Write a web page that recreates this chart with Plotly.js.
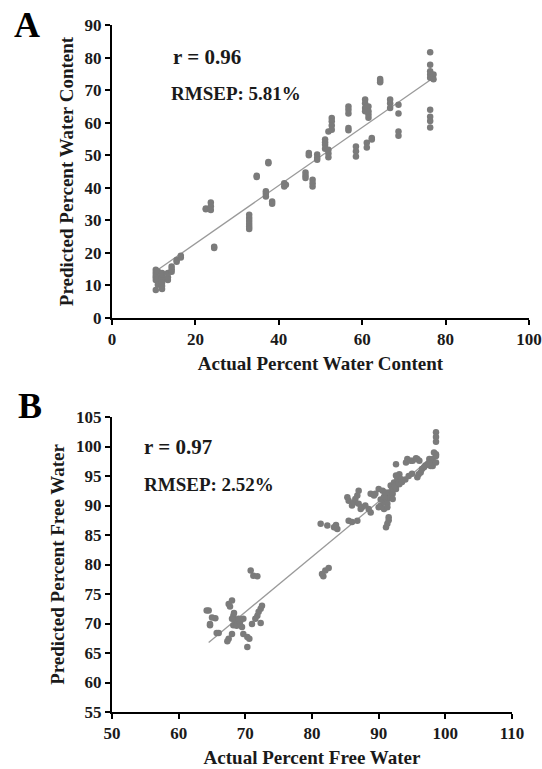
<!DOCTYPE html>
<html>
<head>
<meta charset="utf-8">
<script src="https://cdn.plot.ly/plotly-3.0.1.min.js"></script>
<style>html,body{margin:0;padding:0;background:#fff;}#chart{width:542px;height:769px;}</style>
</head>
<body>
<div id="chart"></div>
<script>
// Panel A: Actual vs predicted percent water content
const actualA = [
  10.5,10.5,10.5,10.5,10.5,10.5,
  11.0,11.0,11.0,
  12.0,12.0,12.0,12.0,12.0,12.0,12.0,
  13.4,13.4,13.4,
  14.3,14.3,14.3,
  15.5,15.5,
  16.5,16.5,
  22.5,22.5,
  23.7,23.7,23.7,
  24.5,24.5,
  32.9,32.9,32.9,32.9,32.9,32.9,
  34.7,34.7,
  36.9,36.9,36.9,
  37.5,37.5,
  38.4,38.4,
  41.3,41.3,41.7,
  46.4,46.4,46.4,
  47.2,47.2,
  48.1,48.1,48.1,
  49.2,49.2,49.2,
  51.1,51.1,51.1,51.1,
  51.9,51.9,51.9,51.9,
  52.7,52.7,52.7,52.7,
  56.7,56.7,56.7,56.7,56.7,
  58.5,58.5,58.5,
  60.7,60.7,60.7,60.7,
  61.1,61.1,
  61.5,61.5,61.5,61.5,
  62.3,62.3,
  64.3,64.3,64.3,
  66.7,66.7,66.7,
  68.7,68.7,68.7,68.7,
  76.3,76.3,76.3,76.3,76.3,76.3,76.3,76.3,76.3,
  77.1,77.1
];
const predictedA = [
  14.8,14.0,13.2,12.5,11.7,8.6,
  14.3,12.0,10.2,
  13.8,12.9,12.3,11.5,10.8,9.8,8.9,
  11.7,12.5,13.8,
  14.2,15.0,15.8,
  17.3,17.8,
  18.6,19.1,
  33.4,33.6,
  35.5,34.3,33.2,
  21.9,21.5,
  31.7,30.7,29.8,28.9,28.0,27.3,
  43.7,43.3,
  38.9,38.2,37.3,
  47.9,47.5,
  35.8,35.1,
  41.4,40.4,40.9,
  44.7,43.8,43.0,
  50.7,50.0,
  42.5,41.4,40.4,
  50.2,49.2,48.6,
  54.8,54.0,53.2,52.0,
  57.3,51.7,50.5,49.4,
  61.4,60.4,59.1,57.8,
  65.0,64.0,62.8,58.4,57.7,
  52.7,51.2,49.6,
  67.1,66.0,64.5,63.5,
  53.8,52.4,
  65.0,63.5,62.5,61.5,
  55.3,54.8,
  73.4,72.9,72.4,
  67.1,66.0,64.5,
  65.5,62.8,57.3,56.0,
  81.6,77.8,75.8,74.8,73.8,64.0,61.8,60.5,58.5,
  74.8,73.3
];
const fitA_x = [10.3, 77.1];
const fitA_y = [14.2, 73.8];

// Panel B: Actual vs predicted percent free water
const actualB = [
  64.5,64.2,65.0,65.5,64.7,64.7,66.0,65.7,67.5,68.0,67.7,68.2,68.5,68.2,68.7,68.0,69.2,69.7,69.5,
  68.0,67.5,67.3,69.7,70.3,70.6,70.3,69.0,68.3,
  70.8,71.2,71.8,71.0,71.8,72.3,72.5,72.0,72.3,71.5,
  81.5,82.0,82.5,81.7,81.3,82.3,83.3,83.8,83.6,83.5,
  85.3,85.5,86.0,85.5,86.0,86.8,86.3,86.5,86.8,87.0,87.0,87.3,87.5,88.0,88.5,88.8,88.8,89.3,89.5,
  90.0,90.0,90.3,90.6,90.8,90.8,91.1,91.1,91.3,91.3,91.3,91.3,91.5,91.5,91.5,91.8,91.8,92.1,92.1,
  92.3,92.6,92.6,92.6,92.8,93.1,93.1,93.3,92.6,
  94.1,94.3,94.8,95.1,95.6,95.8,95.8,96.0,96.1,96.3,96.8,97.3,97.6,97.8,97.8,98.1,98.1,98.3,
  98.6,98.6,98.6,98.6,98.6,98.6,
  90.3,90.8,91.0,92.0,92.4,93.0,93.5,94.0,94.5,95.0,96.5,97.0,97.5
];
const predictedB = [
  72.2,72.2,71.0,70.9,69.7,69.9,68.4,68.4,73.3,73.9,72.9,71.3,70.5,69.7,69.6,70.8,70.2,70.8,69.4,
  68.2,67.4,67.0,68.2,67.7,67.4,66.0,70.8,71.8,
  79.0,78.1,78.0,69.9,71.3,72.5,73.0,72.0,70.1,70.8,
  78.4,79.0,79.4,78.0,86.9,86.6,86.3,86.0,86.7,86.3,
  91.4,90.8,90.0,87.4,87.2,87.4,90.5,91.1,91.7,92.5,90.3,89.4,89.7,90.0,89.4,92.0,88.8,91.7,92.0,
  92.8,89.7,90.0,92.5,90.5,89.4,92.0,86.3,91.1,90.3,89.7,86.9,92.2,88.0,87.5,93.4,91.4,92.0,91.1,
  93.9,93.4,92.8,97.0,94.5,93.6,95.3,94.5,95.1,
  97.3,97.9,97.6,97.6,98.0,97.9,94.8,95.3,97.6,95.6,96.5,97.0,97.9,97.3,96.7,97.9,96.7,99.0,
  102.4,101.6,100.8,98.4,97.3,98.7,
  91.0,91.5,92.2,93.0,93.2,93.8,94.0,94.4,95.0,95.4,96.2,96.8,97.2
];
const fitB_x = [64.5, 98.6];
const fitB_y = [66.8, 98.7];

const W = 542, H = 769;
const px = v => v / W;
const py = v => 1 - v / H;

const serif = "Liberation Serif, Times New Roman, serif";
const markerStyle = {color: '#7b7b7b', size: 6.5};
const lineStyle = {color: '#9a9a9a', width: 1.3};

const traces = [
  {x: fitA_x, y: fitA_y, mode: 'lines', line: lineStyle, xaxis: 'x', yaxis: 'y', hoverinfo: 'skip'},
  {x: actualA, y: predictedA, mode: 'markers', marker: markerStyle, xaxis: 'x', yaxis: 'y'},
  {x: fitB_x, y: fitB_y, mode: 'lines', line: lineStyle, xaxis: 'x2', yaxis: 'y2', hoverinfo: 'skip'},
  {x: actualB, y: predictedB, mode: 'markers', marker: markerStyle, xaxis: 'x2', yaxis: 'y2'}
];

function axisBase(extra) {
  return Object.assign({
    showgrid: false, zeroline: false, showline: true, linecolor: '#000', linewidth: 2,
    ticks: 'outside', ticklen: 5, tickwidth: 2, tickcolor: '#000',
    tickfont: {family: serif, size: 17, color: '#1a1a1a', weight: 700},
    fixedrange: true
  }, extra);
}

const titleFont = {family: serif, size: 19, color: '#1a1a1a', weight: 700};

const layout = {
  width: W, height: H, autosize: false,
  margin: {l: 0, r: 0, t: 0, b: 0},
  paper_bgcolor: '#fff', plot_bgcolor: '#fff',
  showlegend: false,
  font: {family: serif, color: '#1a1a1a'},
  xaxis: axisBase({domain: [px(112), px(529)], range: [0, 100], dtick: 20, anchor: 'y',
    title: {text: 'Actual Percent Water Content', font: titleFont, standoff: 8}}),
  yaxis: axisBase({domain: [py(318), py(25)], range: [0, 90], dtick: 10, anchor: 'x',
    title: {text: 'Predicted Percent Water Content', font: titleFont, standoff: 6}}),
  xaxis2: axisBase({domain: [px(112), px(512)], range: [50, 110], dtick: 10, anchor: 'y2',
    title: {text: 'Actual Percent Free Water', font: titleFont, standoff: 8}}),
  yaxis2: axisBase({domain: [py(712), py(417)], range: [55, 105], dtick: 5, anchor: 'x2',
    title: {text: 'Predicted Percent Free Water', font: titleFont, standoff: 6}}),
  annotations: [
    {text: 'A', x: px(12), y: py(25), xref: 'paper', yref: 'paper', xanchor: 'left', yanchor: 'middle', showarrow: false,
     font: {family: serif, size: 36, color: '#000', weight: 700}},
    {text: 'B', x: px(16), y: py(406), xref: 'paper', yref: 'paper', xanchor: 'left', yanchor: 'middle', showarrow: false,
     font: {family: serif, size: 36, color: '#000', weight: 700}},
    {text: 'r = 0.96', x: px(171), y: py(57), xref: 'paper', yref: 'paper', xanchor: 'left', yanchor: 'middle', showarrow: false,
     font: {family: serif, size: 21, color: '#1a1a1a', weight: 700}},
    {text: 'RMSEP: 5.81%', x: px(169), y: py(93), xref: 'paper', yref: 'paper', xanchor: 'left', yanchor: 'middle', showarrow: false,
     font: {family: serif, size: 19, color: '#1a1a1a', weight: 700}},
    {text: 'r = 0.97', x: px(142), y: py(447), xref: 'paper', yref: 'paper', xanchor: 'left', yanchor: 'middle', showarrow: false,
     font: {family: serif, size: 21, color: '#1a1a1a', weight: 700}},
    {text: 'RMSEP: 2.52%', x: px(142), y: py(485), xref: 'paper', yref: 'paper', xanchor: 'left', yanchor: 'middle', showarrow: false,
     font: {family: serif, size: 19, color: '#1a1a1a', weight: 700}}
  ]
};

Plotly.newPlot('chart', traces, layout, {displayModeBar: false, staticPlot: true});
</script>
</body>
</html>
